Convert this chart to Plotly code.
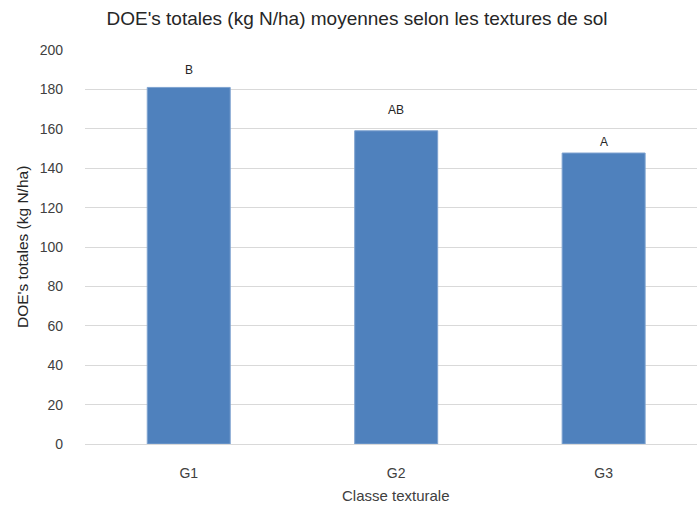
import plotly.graph_objects as go

categories = ["G1", "G2", "G3"]
values = [181, 159, 147.7]
letters = ["B", "AB", "A"]
label_shift = [17, 21, 11]

FONT = "Liberation Sans"
fig = go.Figure()
fig.add_trace(go.Bar(
    x=categories, y=values, width=0.4,
    marker=dict(color="#4F81BD", line=dict(color="#7FA3D0", width=1)),
    hoverinfo="skip",
))
for c, v, t, s in zip(categories, values, letters, label_shift):
    fig.add_annotation(x=c, y=v, text=t, showarrow=False, yshift=s,
                       font=dict(family=FONT, size=12, color="#262626"))

fig.add_annotation(text="Classe texturale", xref="paper", yref="paper",
                   x=(396 - 85) / 612, y=-(495 - 444) / 394, yanchor="middle",
                   showarrow=False, font=dict(family=FONT, size=15, color="#404040"))
fig.add_annotation(text="DOE's totales (kg N/ha)", xref="paper", yref="paper",
                   x=-(85 - 22) / 612, y=0.5, textangle=-90, xanchor="center",
                   showarrow=False, font=dict(family=FONT, size=15.5, color="#262626"))

fig.update_layout(
    width=697, height=507,
    margin=dict(l=85, r=0, t=50, b=63, autoexpand=False),
    paper_bgcolor="white", plot_bgcolor="white",
    showlegend=False,
    title=dict(text="DOE's totales (kg N/ha) moyennes selon les textures de sol",
               x=357/697, xanchor="center", y=1-18/507, yanchor="middle",
               font=dict(family=FONT, size=19, color="#262626")),
    font=dict(family=FONT, color="#595959"),
)
fig.update_xaxes(range=[-0.5, 2.45], showgrid=False, showline=False, ticks="",
                 automargin=False,
                 tickfont=dict(size=14, color="#404040"), ticklabelstandoff=19)
fig.update_yaxes(range=[0, 200], dtick=20, showgrid=True, gridcolor="#D9D9D9",
                 gridwidth=1, zeroline=True, zerolinecolor="#D9D9D9", zerolinewidth=1,
                 showline=False, ticks="", automargin=False,
                 tickfont=dict(size=14, color="#404040"), ticklabelstandoff=21)
fig.write_html("out.html", config={"displayModeBar": False},
               post_script="document.body.style.margin='0';")
